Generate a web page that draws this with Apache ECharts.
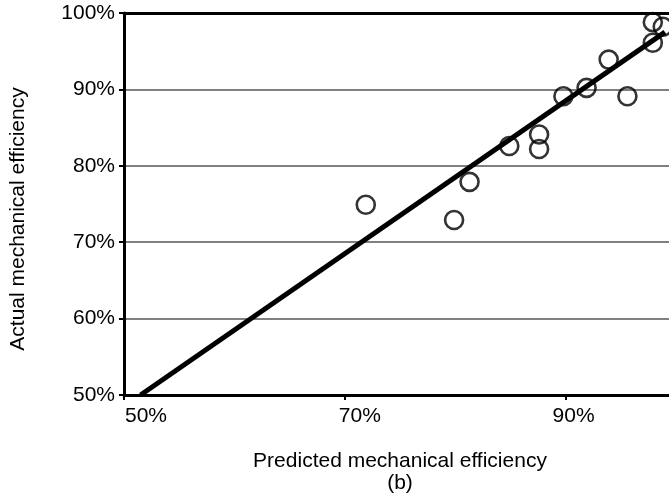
<!DOCTYPE html>
<html>
<head>
<meta charset="utf-8">
<script src="https://cdn.jsdelivr.net/npm/echarts@6/dist/echarts.min.js"></script>
<style>
  html, body { margin: 0; padding: 0; background: #fff; }
  #chart { width: 669px; height: 497px; }
</style>
</head>
<body>
<div id="chart"></div>
<script>
// Predicted vs. actual mechanical efficiency (%)
const predicted = [71.9, 79.9, 81.3, 84.9, 87.6, 87.6, 89.8, 91.9, 95.6, 93.9, 97.9, 97.9, 98.8];
const actual    = [74.9, 72.9, 77.9, 82.6, 84.1, 82.2, 89.1, 90.2, 89.1, 93.9, 96.1, 98.8, 98.2];

// Fitted line end points
const fitX = [51.5, 99];
const fitY = [50, 97.5];

const xTitle = 'Predicted mechanical efficiency';
const subLabel = '(b)';
const yTitle = 'Actual mechanical efficiency';

const FONT = '"Liberation Sans", Arial, sans-serif';
const FS = 21;
const INK = '#000';

const points = predicted.map((p, i) => [p, actual[i]]);
const fitLine = fitX.map((x, i) => [x, fitY[i]]);

const chart = echarts.init(document.getElementById('chart'), null, { renderer: 'canvas' });

chart.setOption({
  animation: false,
  backgroundColor: '#fff',
  grid: { left: 124, top: 13, right: -7, bottom: 102, outerBoundsMode: 'none', containLabel: false },
  xAxis: [{
    type: 'value',
    min: 50, max: 100, interval: 20,
    axisLine: { show: true, onZero: false, lineStyle: { color: '#000', width: 3 } },
    axisTick: { show: true, length: 5, lineStyle: { color: '#000', width: 2 } },
    splitLine: { show: false },
    axisLabel: {
      showMaxLabel: false,
      margin: 11,
      color: INK, fontFamily: FONT, fontSize: FS,
      formatter: v => '{p' + v + '|' + v + '%}',
      rich: {
        p50: { padding: [0, 0, 0, 44], fontFamily: FONT, fontSize: FS, color: INK },
        p70: { padding: [0, 0, 0, 30], fontFamily: FONT, fontSize: FS, color: INK },
        p90: { padding: [0, 0, 0, 16], fontFamily: FONT, fontSize: FS, color: INK }
      }
    },
    name: xTitle + '\n' + subLabel,
    nameLocation: 'middle',
    nameGap: 55,
    nameTextStyle: { color: INK, fontFamily: FONT, fontSize: FS, lineHeight: 22 }
  }, {
    type: 'value',
    position: 'top',
    min: 50, max: 100,
    axisLine: { show: true, onZero: false, lineStyle: { color: '#000', width: 3 } },
    axisTick: { show: false },
    axisLabel: { show: false },
    splitLine: { show: false }
  }],
  yAxis: {
    type: 'value',
    min: 50, max: 100, interval: 10,
    axisLine: { show: true, onZero: false, lineStyle: { color: '#000', width: 3 } },
    axisTick: { show: true, length: 5, lineStyle: { color: '#000', width: 2 } },
    splitLine: { show: true, lineStyle: { color: '#808080', width: 2 } },
    axisLabel: {
      margin: 9,
      color: INK, fontFamily: FONT, fontSize: FS,
      padding: [7, 0, 0, 0],
      formatter: v => v + '%'
    }
  },
  graphic: [{
    type: 'text',
    x: 18, y: 219,
    rotation: Math.PI / 2,
    style: {
      text: yTitle,
      fill: INK,
      font: FS + 'px ' + FONT,
      align: 'center',
      verticalAlign: 'middle'
    }
  }],
  series: [{
    type: 'line',
    data: fitLine,
    symbol: 'none',
    silent: true,
    lineStyle: { color: '#000', width: 5 },
    z: 2
  }, {
    type: 'scatter',
    data: points,
    symbol: 'circle',
    symbolSize: 18,
    itemStyle: { color: 'transparent', borderColor: '#000', borderWidth: 2.6 },
    z: 3
  }]
});
</script>
</body>
</html>
